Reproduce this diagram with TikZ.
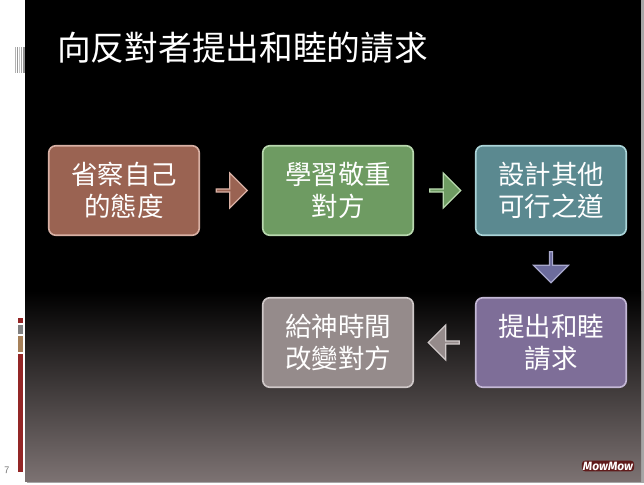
\documentclass[tikz,border=0pt]{standalone}
\usepackage{fontspec}
\usepackage{tikz}
\usetikzlibrary{shapes.arrows,calc,positioning}
\newfontfamily\cjk{Noto Sans CJK TC}
\newfontfamily\sigfont[Scale=1]{Fira Sans}
\definecolor{cA}{HTML}{9A6352}
\definecolor{cAl}{HTML}{D8B0A4}
\definecolor{cB}{HTML}{6E9B62}
\definecolor{cBl}{HTML}{B8D8AE}
\definecolor{cC}{HTML}{5B8990}
\definecolor{cCl}{HTML}{AAD4D8}
\definecolor{cD}{HTML}{7E6E98}
\definecolor{cDl}{HTML}{C4B8D6}
\definecolor{cE}{HTML}{958B8B}
\definecolor{cEl}{HTML}{CFC8C8}
\definecolor{cF}{HTML}{6C6C9C}
\definecolor{cFl}{HTML}{A8A8CC}
\definecolor{gradEnd}{HTML}{7C7272}
\tikzset{
  x=1pt,y=-1pt,
  flowbox/.style={draw=#1l,fill=#1,line width=1.6pt,rounded corners=7pt,minimum width=150.5pt,minimum height=89.5pt,
    inner sep=0pt,align=center,text=white,font=\cjk\fontsize{26.5}{31.5}\selectfont},
  blockarrow/.style={single arrow,draw=#1l,fill=#1,line width=1.2pt,minimum width=35pt,minimum height=31pt,
    single arrow head extend=6pt,single arrow tip angle=90,inner sep=0pt,anchor=center},
}
\begin{document}
\begin{tikzpicture}
\useasboundingbox (0,0) rectangle (644,484);
\fill[white] (0,0) rectangle (644,484);
% slide
\fill[gray!70] (27,481) rectangle (644,483);
\fill[gray!70] (641,0) rectangle (644,483);
\fill[black] (25,0) rectangle (641,292);
\shade[top color=black,bottom color=gradEnd] (25,291) rectangle (641,481);
% barcode
\foreach \xx/\ww/\cc in {15/1/gray!60,17/1/gray!80,19/1/gray!45,21/1/gray!70,23/2/gray!85}
  \fill[\cc] (\xx,47) rectangle ++(\ww,26);
% side bars
\fill[red!50!black!85!white] (18,318) rectangle (23,323);
\fill[gray] (18,325) rectangle (23,334);
\fill[brown!60!gray] (18,336) rectangle (23,352);
\fill[red!50!black!85!white] (18,354) rectangle (23,472);
\node[text=gray!90!black,font=\sffamily\fontsize{10}{10}\selectfont] (pagenum) at (7,470.5) {7};
% title
\node[anchor=west,text=white,inner sep=0pt,font=\cjk\fontsize{33.7}{36}\selectfont] (title) at (57,47.5) {向反對者提出和睦的請求};
% boxes
\node[flowbox=cA] (a) at (124,190.5) {省察自己\\的態度};
\node[flowbox=cB] (b) at (338,190.5) {學習敬重\\對方};
\node[flowbox=cC] (c) at (551,190.5) {設計其他\\可行之道};
\node[flowbox=cD] (d) at (551,342.5) {提出和睦\\請求};
\node[flowbox=cE] (e) at (338,342.5) {給神時間\\改變對方};
% arrows
\node[blockarrow=cA] (ab) at ($(a.east)!0.5!(b.west)$) {};
\node[blockarrow=cB] (bc) at ($(b.east)!0.5!(c.west)$) {};
\node[blockarrow=cF,shape border rotate=270] (cd) at ($(c.south)!0.5!(d.north)$) {};
\node[blockarrow=cE,shape border rotate=180] (de) at ($(d.west)!0.5!(e.east)$) {};
% signature
\node[text=white,inner sep=1pt,fill=red!35!black,fill opacity=.75,text opacity=1,rounded corners=3pt,font=\sigfont\bfseries\itshape\fontsize{12}{12}\selectfont] (sig) at (608,466) {MowMow};
\end{tikzpicture}
\end{document}
